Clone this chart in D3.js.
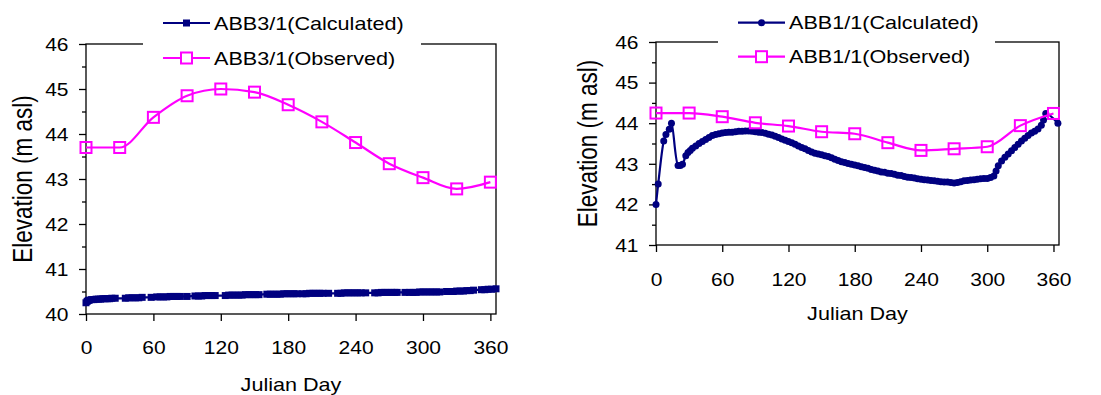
<!DOCTYPE html>
<html>
<head>
<meta charset="utf-8">
<script src="https://cdn.jsdelivr.net/npm/d3@7"></script>
<style>
  html, body { margin: 0; padding: 0; background: #fff; }
  svg { display: block; }
  text { font-family: "Liberation Sans", Arial, sans-serif; fill: #000; }
</style>
</head>
<body>
<svg id="chart" width="1101" height="395"></svg>
<script>
// ---- Axis ticks ----
const julianTicks = [0, 60, 120, 180, 240, 300, 360];
const elevTicksAbb3 = [40, 41, 42, 43, 44, 45, 46];
const elevTicksAbb1 = [41, 42, 43, 44, 45, 46];

// ---- Observed levels (monthly readings) ----
const observedDays = [0, 30, 60, 90, 120, 150, 180, 210, 240, 270, 300, 330, 360];
const abb3Observed = [43.70, 43.70, 44.37, 44.85, 45.00, 44.93, 44.65, 44.27, 43.81, 43.34, 43.03, 42.78, 42.93];
const abb1Observed = [44.25, 44.25, 44.16, 44.01, 43.93, 43.79, 43.74, 43.52, 43.33, 43.37, 43.42, 43.94, 44.24];

// ---- Calculated levels, ABB3/1 ----
const abb3CalcDays = [0,1,2,3,5,7,9,11,13,15,17,19,21,23,26, 35,38,41,44,47,50, 58,
  63,66,69,72,75,78,81,84, 90, 97,100,103,106,109,112,115, 124,
  127,130,133,136,139,142,145,148,151,154, 161,164,167,170,173,176,179,182,185,188,
  193,196,199,202,205,208,211, 216, 224,227,230,233,236,239,242,245, 249,
  257,260,263,266,269,272,275,277, 284, 288,291,294,297,300,303,306,309,312,315,
  321,324,327,330,333,336,339,342,345, 352,355,358,361,365];
const abb3Calculated = [40.25,40.28,40.30,40.31,40.32,40.32,40.33,40.33,40.33,40.34,40.34,40.34,40.34,40.35,40.35,
  40.35,40.36,40.36,40.36,40.36,40.37, 40.37,
  40.38,40.38,40.38,40.38,40.39,40.39,40.39,40.39, 40.39,
  40.40,40.40,40.40,40.41,40.41,40.41,40.41, 40.41,
  40.42,40.42,40.42,40.42,40.42,40.43,40.43,40.43,40.43,40.43,
  40.44,40.44,40.44,40.44,40.44,40.45,40.45,40.45,40.45,40.45,
  40.45,40.45,40.46,40.46,40.46,40.46,40.46, 40.46,
  40.46,40.46,40.47,40.47,40.47,40.47,40.47,40.47, 40.47,
  40.47,40.47,40.48,40.48,40.48,40.48,40.48,40.48, 40.48,
  40.48,40.48,40.48,40.49,40.49,40.49,40.49,40.49,40.49,40.49,
  40.50,40.50,40.50,40.51,40.51,40.51,40.52,40.52,40.53,
  40.54,40.54,40.55,40.55,40.56];

// ---- Calculated levels, ABB1/1 ----
const abb1CalcDays = [0,2,7,9,12,14,20,22,24,27,29,31,33,
  36,39,42,45,48,51,54,57,60,63,66,69,72,75,78,81,84,87,90,93,96,99,102,105,108,111,114,117,
  120,123,126,129,132,135,138,141,144,147,150,153,156,159,162,165,168,171,174,177,180,
  183,186,189,192,195,198,201,204,207,210,213,216,219,222,225,228,231,234,237,240,
  243,246,249,252,255,258,261,264,267,270,273,276,279,282,285,288,291,294,297,300,
  303,306,308,310,313,316,319,322,325,328,331,334,337,340,343,346,349,351,353,364];
const abb1Calculated = [42.00,42.50,43.56,43.72,43.85,44.00,42.96,42.96,42.99,43.20,43.28,43.33,43.38,
  43.44,43.50,43.55,43.60,43.65,43.70,43.72,43.74,43.76,43.77,43.78,43.78,43.79,43.80,43.80,43.81,43.81,43.80,43.79,43.78,43.77,43.75,43.73,43.71,43.68,43.65,43.61,43.58,
  43.55,43.52,43.48,43.44,43.40,43.37,43.33,43.29,43.26,43.24,43.22,43.20,43.18,43.15,43.11,43.08,43.05,43.03,43.01,42.99,42.97,
  42.95,42.93,42.91,42.89,42.86,42.84,42.82,42.80,42.79,42.77,42.76,42.74,42.72,42.71,42.69,42.67,42.66,42.65,42.63,42.62,
  42.61,42.60,42.59,42.58,42.57,42.56,42.55,42.55,42.54,42.53,42.54,42.56,42.58,42.59,42.60,42.61,42.62,42.63,42.64,42.64,
  42.66,42.70,42.82,42.95,43.07,43.16,43.24,43.32,43.40,43.48,43.56,43.63,43.70,43.76,43.80,43.86,43.95,44.08,44.24,44.00];

const NAVY = "#000080";
const MAGENTA = "#ff00ff";
const SX = 1.2;           // horizontal glyph stretch used for every label
const FS = 17.5;          // tick label font size

const panels = [
  {
    left: 86, right: 496, top: 44, bottom: 314,
    yDomain: [40, 46], yTicks: elevTicksAbb3,
    calcDays: abb3CalcDays, calc: abb3Calculated, obs: abb3Observed,
    calcName: "ABB3/1(Calculated)", obsName: "ABB3/1(Observed)",
    calcMarker: "square",
    legendLineX: 163, legendRows: [23, 58], legendGap: [143, 421],
    yTitleX: 31.5, xLabelOffset: 34, xTitleY: 391
  },
  {
    left: 656, right: 1059, top: 42, bottom: 245,
    yDomain: [41, 46], yTicks: elevTicksAbb1,
    calcDays: abb1CalcDays, calc: abb1Calculated, obs: abb1Observed,
    calcMarker: "circle",
    calcName: "ABB1/1(Calculated)", obsName: "ABB1/1(Observed)",
    legendLineX: 738, legendRows: [22.7, 56.7], legendGap: [718, 995],
    yTitleX: 597, xLabelOffset: 35, xTitleY: 320
  }
];

const svg = d3.select("#chart");

function stretchedText(g, x, y, str, anchor, size) {
  return g.append("text")
    .attr("transform", `translate(${x},${y}) scale(${SX},1)`)
    .attr("text-anchor", anchor)
    .style("font-size", size + "px")
    .text(str);
}

function calcMarker(sel, kind, cx, cy) {
  if (kind === "square") {
    sel.append("rect").attr("x", cx - 3.5).attr("y", cy - 3.5)
      .attr("width", 7).attr("height", 7).attr("fill", NAVY);
  } else {
    sel.append("circle").attr("cx", cx).attr("cy", cy).attr("r", 3.5).attr("fill", NAVY);
  }
}

panels.forEach(p => {
  const g = svg.append("g");
  const x = d3.scaleLinear().domain([0, 365]).range([p.left, p.right]);
  const y = d3.scaleLinear().domain(p.yDomain).range([p.bottom, p.top]);

  // y axis: labelled whole metres plus unlabelled half-metre ticks
  const halfTicks = d3.range(p.yDomain[0] + 0.5, p.yDomain[1], 1);
  const yMinor = g.append("g").attr("transform", `translate(${p.left},0)`)
    .call(d3.axisLeft(y).tickValues(halfTicks).tickSize(4).tickFormat(""));
  const yMajor = g.append("g").attr("transform", `translate(${p.left},0)`)
    .call(d3.axisLeft(y).tickValues(p.yTicks).tickSize(7).tickFormat(d3.format("d")));
  const xAxis = g.append("g").attr("transform", `translate(0,${p.bottom})`)
    .call(d3.axisBottom(x).tickValues(julianTicks).tickSize(7));

  [yMinor, yMajor, xAxis].forEach(a => {
    a.attr("font-size", null).attr("font-family", null);
    a.select(".domain").remove();
    a.selectAll(".tick line").attr("stroke", "#000").attr("stroke-width", 1.3);
  });
  yMajor.selectAll(".tick text")
    .attr("x", -17.5 / SX).attr("dy", "0.36em")
    .attr("transform", `scale(${SX},1)`)
    .style("font-size", FS + "px");
  xAxis.selectAll(".tick text")
    .attr("x", 0).attr("y", p.xLabelOffset + 6.3).attr("dy", 0)
    .attr("transform", `scale(${SX},1)`)
    .style("font-size", FS + "px");

  // plot frame
  g.append("rect")
    .attr("x", p.left).attr("y", p.top)
    .attr("width", p.right - p.left).attr("height", p.bottom - p.top)
    .attr("fill", "none").attr("stroke", "#000").attr("stroke-width", 1.3);

  // calculated series
  const calcPts = p.calcDays.map((d, i) => [d, p.calc[i]]);
  g.append("path")
    .datum(calcPts)
    .attr("fill", "none").attr("stroke", NAVY).attr("stroke-width", 2.2)
    .attr("d", d3.line().x(d => x(d[0])).y(d => y(d[1])).curve(d3.curveCatmullRom));
  const cm = g.append("g");
  calcPts.forEach(d => calcMarker(cm, p.calcMarker, x(d[0]), y(d[1])));

  // observed series
  const obsPts = observedDays.map((d, i) => [d, p.obs[i]]);
  g.append("path")
    .datum(obsPts)
    .attr("fill", "none").attr("stroke", MAGENTA).attr("stroke-width", 2.2)
    .attr("d", d3.line().x(d => x(d[0])).y(d => y(d[1])).curve(d3.curveMonotoneX));
  g.selectAll(".obs").data(obsPts).enter().append("rect")
    .attr("class", "obs")
    .attr("x", d => x(d[0]) - 5.5).attr("y", d => y(d[1]) - 5.5)
    .attr("width", 11).attr("height", 11)
    .attr("fill", "none").attr("stroke", MAGENTA).attr("stroke-width", 2);

  // legend, sitting over the top edge of the frame
  g.append("rect")
    .attr("x", p.legendGap[0]).attr("y", 4)
    .attr("width", p.legendGap[1] - p.legendGap[0]).attr("height", p.top)
    .attr("fill", "#fff");
  const lx0 = p.legendLineX, lx1 = p.legendLineX + 47, lmid = (lx0 + lx1) / 2;
  const r0 = p.legendRows[0], r1 = p.legendRows[1];
  g.append("line").attr("x1", lx0).attr("x2", lx1).attr("y1", r0).attr("y2", r0)
    .attr("stroke", NAVY).attr("stroke-width", 2.2);
  calcMarker(g, p.calcMarker, lmid, r0);
  stretchedText(g, lx1 + 4, r0 + 6.5, p.calcName, "start", 18);
  g.append("line").attr("x1", lx0).attr("x2", lx1).attr("y1", r1).attr("y2", r1)
    .attr("stroke", MAGENTA).attr("stroke-width", 2.2);
  g.append("rect").attr("x", lmid - 5.5).attr("y", r1 - 5.5).attr("width", 11).attr("height", 11)
    .attr("fill", "#fff").attr("stroke", MAGENTA).attr("stroke-width", 2);
  stretchedText(g, lx1 + 4, r1 + 6.5, p.obsName, "start", 18);

  // axis titles
  stretchedText(g, (p.left + p.right) / 2, p.xTitleY, "Julian Day", "middle", 18);
  g.append("text")
    .attr("transform", `translate(${p.yTitleX},${(p.top + p.bottom) / 2}) scale(${SX},1) rotate(-90)`)
    .attr("text-anchor", "middle")
    .style("font-size", "22.5px")
    .text("Elevation (m asl)");
});
</script>
</body>
</html>
